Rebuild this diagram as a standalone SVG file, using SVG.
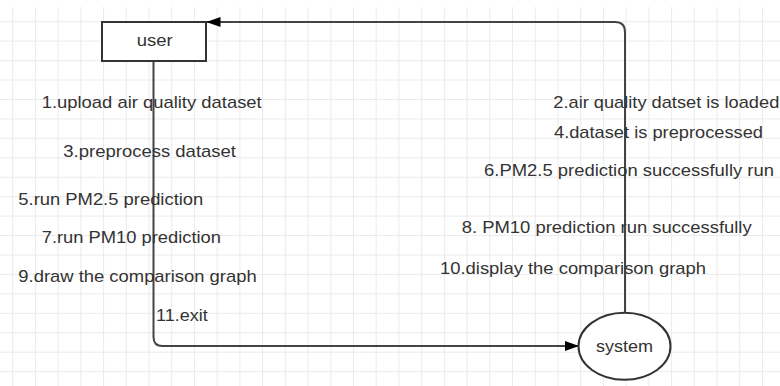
<svg xmlns="http://www.w3.org/2000/svg" width="780" height="386" viewBox="0 0 780 386">
<style>
.grid{stroke:#ebebeb;stroke-width:1;fill:none}
.t{font-family:"Liberation Sans",Arial,sans-serif;font-size:17px;fill:#333}
.c{fill:none;stroke:#444;stroke-width:2}
.n{fill:#fff;stroke:#333;stroke-width:2}
</style>
<defs>
<marker id="ah" viewBox="0 0 14 10" refX="14" refY="5" markerWidth="14" markerHeight="10" markerUnits="userSpaceOnUse" orient="auto">
<path d="M0,0 L14,5 L0,10 Z" fill="#000"/>
</marker>
</defs>
<rect width="780" height="386" fill="#fff"/>
<path class="grid" d="M12.7,7V386M35.4,7V386M58.1,7V386M80.9,7V386M103.6,7V386M126.3,7V386M149,7V386M171.7,7V386M194.5,7V386M217.2,7V386M239.9,7V386M262.6,7V386M285.3,7V386M308.1,7V386M330.8,7V386M353.5,7V386M376.2,7V386M398.9,7V386M421.7,7V386M444.4,7V386M467.1,7V386M489.8,7V386M512.5,7V386M535.3,7V386M558,7V386M580.7,7V386M603.4,7V386M626.1,7V386M648.9,7V386M671.6,7V386M694.3,7V386M717,7V386M739.7,7V386M762.5,7V386M0,21.7H780M0,41.1H780M0,60.6H780M0,80H780M0,99.5H780M0,118.9H780M0,138.3H780M0,157.8H780M0,177.2H780M0,196.7H780M0,216.1H780M0,235.5H780M0,255H780M0,274.4H780M0,293.9H780M0,313.3H780M0,332.7H780M0,352.2H780M0,371.6H780"/>
<g id="connectors">
<path class="c" d="M153.5,61 V337 Q153.5,346 162.5,346 H579" marker-end="url(#ah)"/>
<path class="c" d="M625,313 V32 Q625,22 615,22 H206.5" marker-end="url(#ah)"/>
</g>
<g id="user">
<rect class="n" x="102" y="22" width="104" height="39"/>
<text class="t" x="136.7" y="46" textLength="36" lengthAdjust="spacingAndGlyphs">user</text>
</g>
<g id="system">
<ellipse class="n" cx="624.5" cy="346.3" rx="46" ry="33.5"/>
<text class="t" x="596" y="352" textLength="57" lengthAdjust="spacingAndGlyphs">system</text>
</g>
<g id="labels">
<text class="t" x="41.7" y="108.3" textLength="220" lengthAdjust="spacingAndGlyphs">1.upload air quality dataset</text>
<text class="t" x="553.3" y="108.3" textLength="226" lengthAdjust="spacingAndGlyphs">2.air quality datset is loaded</text>
<text class="t" x="554" y="137.5" textLength="209" lengthAdjust="spacingAndGlyphs">4.dataset is preprocessed</text>
<text class="t" x="63.3" y="157" textLength="172.7" lengthAdjust="spacingAndGlyphs">3.preprocess dataset</text>
<text class="t" x="484" y="175.7" textLength="290" lengthAdjust="spacingAndGlyphs">6.PM2.5 prediction successfully run</text>
<text class="t" x="18.3" y="205" textLength="185" lengthAdjust="spacingAndGlyphs">5.run PM2.5 prediction</text>
<text class="t" x="461.7" y="233.3" textLength="290" lengthAdjust="spacingAndGlyphs">8. PM10 prediction run successfully</text>
<text class="t" x="41.7" y="243.3" textLength="179.3" lengthAdjust="spacingAndGlyphs">7.run PM10 prediction</text>
<text class="t" x="440" y="273.5" textLength="266" lengthAdjust="spacingAndGlyphs">10.display the comparison graph</text>
<text class="t" x="18.3" y="282" textLength="238.4" lengthAdjust="spacingAndGlyphs">9.draw the comparison graph</text>
<text class="t" x="156" y="321" textLength="51.7" lengthAdjust="spacingAndGlyphs">11.exit</text>
</g>
</svg>
